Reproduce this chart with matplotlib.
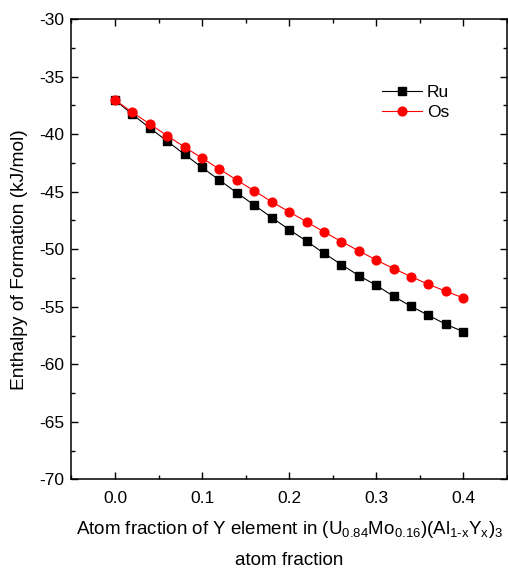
import matplotlib
matplotlib.use("Agg")
import matplotlib.pyplot as plt
from matplotlib.ticker import MultipleLocator

plt.rcParams['font.family'] = ['Liberation Sans', 'DejaVu Sans']
plt.rcParams['mathtext.fontset'] = 'custom'
plt.rcParams['mathtext.rm'] = 'Liberation Sans'
plt.rcParams['axes.unicode_minus'] = False

x = [0.00, 0.02, 0.04, 0.06, 0.08, 0.10, 0.12, 0.14, 0.16, 0.18, 0.20,
     0.22, 0.24, 0.26, 0.28, 0.30, 0.32, 0.34, 0.36, 0.38, 0.40]
ru = [-37.04, -38.29, -39.48, -40.61, -41.77, -42.90, -44.00, -45.10, -46.17, -47.25, -48.29,
      -49.30, -50.35, -51.33, -52.29, -53.13, -54.09, -54.96, -55.74, -56.52, -57.16]
os_ = [-37.04, -38.11, -39.13, -40.14, -41.13, -42.09, -43.04, -44.00, -44.93, -45.88, -46.75,
       -47.62, -48.49, -49.33, -50.14, -50.93, -51.68, -52.38, -53.05, -53.65, -54.23]

fig = plt.figure(figsize=(5.08, 5.70), dpi=100)
ax = fig.add_axes([0.1407, 0.1588, 0.857, 0.8079])

ax.plot(x, ru, color='black', lw=0.8, marker='s', ms=5.3, label='Ru')
ax.plot(x, os_, color='red', lw=0.8, marker='o', ms=6.3, label='Os')

ax.set_xlim(-0.05, 0.45)
ax.set_ylim(-70, -30)
ax.xaxis.set_major_locator(MultipleLocator(0.1))
ax.xaxis.set_minor_locator(MultipleLocator(0.05))
ax.yaxis.set_major_locator(MultipleLocator(5))
ax.yaxis.set_minor_locator(MultipleLocator(2.5))
ax.xaxis.set_major_formatter(matplotlib.ticker.FormatStrFormatter('%.1f'))
ax.tick_params(which='both', direction='in', top=True, right=True, labelsize=12.5, width=1)
ax.tick_params(which='major', length=5)
ax.tick_params(which='minor', length=3)
ax.tick_params(axis='x', pad=8)
ax.tick_params(axis='y', pad=5)
for s in ax.spines.values():
    s.set_linewidth(1.1)

ax.set_ylabel('Enthalpy of Formation (kJ/mol)', fontsize=13.8)
ax.yaxis.set_label_coords(-0.100, 0.477)
ax.set_xlabel('Atom fraction of Y element in '
              '$\\mathregular{(U_{0.84}Mo_{0.16})(Al_{1\\text{-}x}Y_x)_3}$'
              '\natom fraction',
              fontsize=13.5, labelpad=10, linespacing=1.85)

ax.legend(loc='upper left', bbox_to_anchor=(0.677, 0.89), frameon=False, fontsize=12.5,
          handlelength=2.3, handletextpad=0.3, labelspacing=0.25)

fig.savefig('out.png', dpi=100)
